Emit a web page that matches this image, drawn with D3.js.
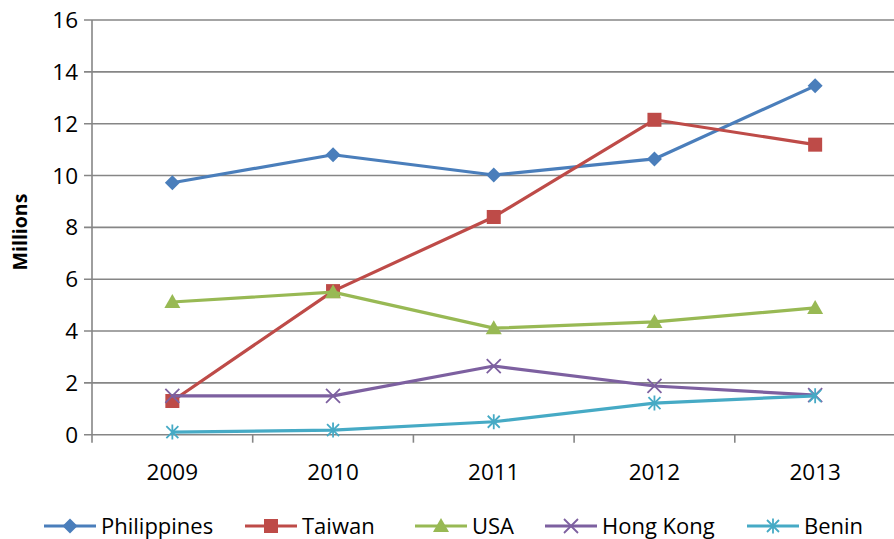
<!DOCTYPE html>
<html><head><meta charset="utf-8">
<script src="https://cdn.jsdelivr.net/npm/d3@7"></script>
<style>body{margin:0;background:#fff}svg{display:block}</style>
</head><body>
<svg id="c" width="894" height="539"></svg>
<script>
const years = ["2009","2010","2011","2012","2013"];
const philippines = [9.72, 10.8, 10.02, 10.64, 13.46];
const taiwan = [1.3, 5.54, 8.4, 12.15, 11.19];
const usa = [5.12, 5.5, 4.11, 4.35, 4.89];
const hongKong = [1.5, 1.5, 2.65, 1.88, 1.53];
const benin = [0.1, 0.18, 0.5, 1.22, 1.5];
const yTicks = [0, 2, 4, 6, 8, 10, 12, 14, 16];
const seriesNames = ["Philippines","Taiwan","USA","Hong Kong","Benin"];
const seriesColors = ["#4a7ebb","#be4b48","#98b954","#7d60a0","#46aac5"];
const seriesMarkers = ["diamond","square","triangle","x","star"];

const svg = d3.select("#c");
const font = "'Open Sans', 'Liberation Sans', sans-serif";
const L = 92, R = 895.5, T = 20, B = 434.7;
const x = d3.scaleBand().domain(years).range([L, R]);
const y = d3.scaleLinear().domain([0, 16]).range([B, T]);
const grid = "#868686";

// gridlines
svg.append("g").selectAll("line").data(yTicks).join("line")
  .attr("x1", L - 8).attr("x2", R).attr("y1", d => y(d)).attr("y2", d => y(d))
  .attr("stroke", grid).attr("stroke-width", 1.6);
// y axis line
svg.append("line").attr("x1", L).attr("x2", L).attr("y1", T).attr("y2", B + 8)
  .attr("stroke", grid).attr("stroke-width", 1.6);
// x ticks
svg.append("g").selectAll("line").data(years.slice(1)).join("line")
  .attr("x1", d => x(d)).attr("x2", d => x(d)).attr("y1", B).attr("y2", B + 8)
  .attr("stroke", grid).attr("stroke-width", 1.6);

// y labels
svg.append("g").selectAll("text").data(yTicks).join("text")
  .attr("x", L - 14).attr("y", d => y(d)).attr("dy", "0.36em")
  .attr("text-anchor", "end").attr("font-family", font).attr("font-size", 22.5)
  .attr("fill", "#000").text(d => d);
// x labels
svg.append("g").selectAll("text").data(years).join("text")
  .attr("x", d => x(d) + x.bandwidth() / 2).attr("y", 480)
  .attr("text-anchor", "middle").attr("font-family", font).attr("font-size", 22.5)
  .attr("fill", "#000").text(d => d);
// axis title
svg.append("text").attr("transform", "translate(27,232) rotate(-90)")
  .attr("text-anchor", "middle").attr("font-family", font).attr("font-size", 19.5)
  .attr("font-weight", "bold").text("Millions");

function marker(g, type, color, cx, cy) {
  if (type === "diamond") {
    g.append("path").attr("d", `M${cx},${cy-7.5}L${cx+7.5},${cy}L${cx},${cy+7.5}L${cx-7.5},${cy}Z`).attr("fill", color);
  } else if (type === "square") {
    g.append("rect").attr("x", cx-7).attr("y", cy-7).attr("width", 14).attr("height", 14).attr("fill", color);
  } else if (type === "triangle") {
    g.append("path").attr("d", `M${cx},${cy-8}L${cx+8},${cy+6}L${cx-8},${cy+6}Z`).attr("fill", color);
  } else if (type === "x") {
    g.append("path").attr("d", `M${cx-7},${cy-7}L${cx+7},${cy+7}M${cx+7},${cy-7}L${cx-7},${cy+7}`).attr("stroke", color).attr("stroke-width", 1.8);
  } else {
    g.append("path").attr("d", `M${cx-6},${cy-6}L${cx+6},${cy+6}M${cx+6},${cy-6}L${cx-6},${cy+6}M${cx},${cy-7.5}L${cx},${cy+7.5}`).attr("stroke", color).attr("stroke-width", 1.8);
  }
}

const allSeries = [philippines, taiwan, usa, hongKong, benin];
const line = d3.line().x((d, i) => x(years[i]) + x.bandwidth() / 2).y(d => y(d));
allSeries.forEach((vals, k) => {
  const g = svg.append("g");
  g.append("path").datum(vals).attr("d", line).attr("fill", "none")
    .attr("stroke", seriesColors[k]).attr("stroke-width", 3.2).attr("stroke-linejoin", "round");
  vals.forEach((v, i) => marker(g, seriesMarkers[k], seriesColors[k], x(years[i]) + x.bandwidth() / 2, y(v)));
});

// legend
const legX = [44, 245, 415, 545, 747];
seriesNames.forEach((n, k) => {
  const g = svg.append("g");
  const ly = 526;
  g.append("line").attr("x1", legX[k]).attr("x2", legX[k] + 52).attr("y1", ly).attr("y2", ly)
    .attr("stroke", seriesColors[k]).attr("stroke-width", 3.2);
  marker(g, seriesMarkers[k], seriesColors[k], legX[k] + 26, ly);
  g.append("text").attr("x", legX[k] + 57).attr("y", 534)
    .attr("font-family", font).attr("font-size", 22).attr("fill", "#000").text(n);
});
</script>
</body></html>
